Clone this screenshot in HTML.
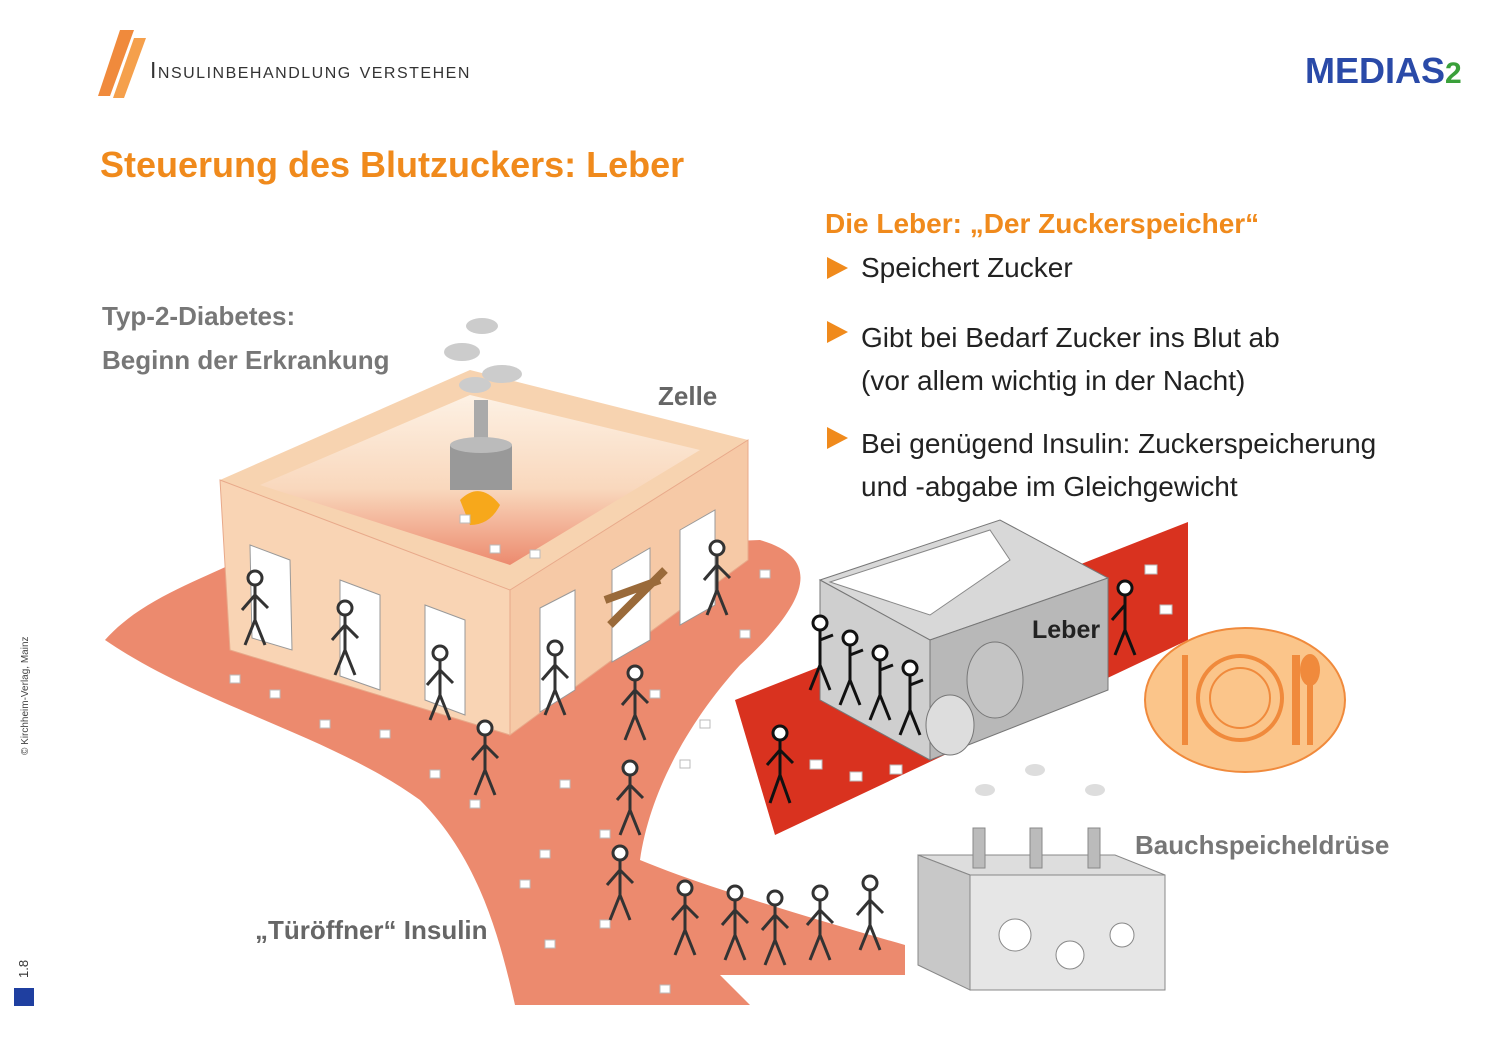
<!DOCTYPE html>
<html><head><meta charset="utf-8"><style>
html,body{margin:0;padding:0;background:#fff;}
body{width:1496px;height:1056px;overflow:hidden;position:relative;font-family:"Liberation Sans","DejaVu Sans",sans-serif;}
.t{position:absolute;white-space:nowrap;}
</style></head><body>
<svg width="1496" height="1056" style="position:absolute;left:0;top:0" xmlns="http://www.w3.org/2000/svg">
<defs><linearGradient id="g1" x1="0" y1="0" x2="0" y2="1"><stop offset="0" stop-color="#fdf1e4"/><stop offset="0.55" stop-color="#f9d8bd"/><stop offset="1" stop-color="#ec8a6e"/></linearGradient></defs>
<path d="M120,30 L134,30 L110,96 L98,96 Z" fill="#f08a3c"/>
<path d="M134,38 L146,38 L124,98 L113,98 Z" fill="#f5a04c"/>
<path d="M105,640 C140,600 200,580 240,560 L760,540 C830,560 800,610 740,665 C690,720 650,790 640,860 C700,885 800,915 905,945 L905,975 L720,975 L750,1005 L515,1005 C500,940 480,860 420,800 C330,735 200,705 105,640 Z" fill="#ec8a6e"/>
<path d="M735,700 L1188,522 L1188,640 L775,835 Z" fill="#d9321f"/>
<path d="M220,480 L470,370 L748,440 L510,590 Z" fill="#f7d3b0"/>
<path d="M260,485 L470,395 L700,450 L510,565 Z" fill="url(#g1)"/>
<path d="M220,480 L510,590 L510,735 L230,650 Z" fill="#f9d4b4" stroke="#e8a98a"/>
<path d="M510,590 L748,440 L748,560 L510,735 Z" fill="#f6c9a6" stroke="#e8a98a"/>
<path d="M250,545 L290,560 L292,650 L252,638 Z" fill="#fff" stroke="#999"/>
<path d="M340,580 L380,595 L380,690 L340,676 Z" fill="#fff" stroke="#999"/>
<path d="M425,605 L465,620 L465,715 L425,700 Z" fill="#fff" stroke="#999"/>
<path d="M540,608 L575,590 L575,690 L540,712 Z" fill="#fff" stroke="#999"/>
<path d="M612,570 L650,548 L650,640 L612,662 Z" fill="#fff" stroke="#999"/>
<path d="M680,530 L715,510 L715,605 L680,625 Z" fill="#fff" stroke="#999"/>
<path d="M605,600 L660,580 M610,625 L665,570" stroke="#9a6a3a" stroke-width="8"/>
<rect x="474" y="400" width="14" height="42" fill="#aaa"/>
<path d="M450,445 L512,445 L512,490 L450,490 Z" fill="#999"/>
<ellipse cx="481" cy="445" rx="31" ry="8" fill="#bbb"/>
<path d="M460,500 Q480,480 500,505 Q490,525 470,525 Z" fill="#f7a81b"/>
<g fill="#ccc"><ellipse cx="482" cy="326" rx="16" ry="8"/><ellipse cx="462" cy="352" rx="18" ry="9"/><ellipse cx="502" cy="374" rx="20" ry="9"/><ellipse cx="475" cy="385" rx="16" ry="8"/></g>
<path d="M820,580 L1000,520 L1108,578 L930,640 Z" fill="#d8d8d8" stroke="#777"/>
<path d="M830,582 L990,530 L1010,560 L930,615 Z" fill="#fff" stroke="#888"/>
<path d="M820,580 L930,640 L930,760 L820,700 Z" fill="#cfcfcf" stroke="#777"/>
<path d="M930,640 L1108,578 L1108,690 L930,760 Z" fill="#b8b8b8" stroke="#777"/>
<ellipse cx="995" cy="680" rx="28" ry="38" fill="#c4c4c4" stroke="#777"/>
<ellipse cx="950" cy="725" rx="24" ry="30" fill="#ddd" stroke="#777"/>
<path d="M918,855 L1115,855 L1165,875 L970,875 Z" fill="#ddd" stroke="#888"/>
<path d="M918,855 L970,875 L970,990 L918,965 Z" fill="#c8c8c8" stroke="#888"/>
<rect x="970" y="875" width="195" height="115" fill="#e6e6e6" stroke="#888"/>
<g fill="#bbb" stroke="#888"><rect x="973" y="828" width="12" height="40"/><rect x="1030" y="828" width="12" height="40"/><rect x="1088" y="828" width="12" height="40"/></g>
<g fill="#ddd"><ellipse cx="985" cy="790" rx="10" ry="6"/><ellipse cx="1035" cy="770" rx="10" ry="6"/><ellipse cx="1095" cy="790" rx="10" ry="6"/></g>
<circle cx="1015" cy="935" r="16" fill="#fff" stroke="#888"/><circle cx="1070" cy="955" r="14" fill="#fff" stroke="#888"/><circle cx="1122" cy="935" r="12" fill="#fff" stroke="#888"/>
<ellipse cx="1245" cy="700" rx="100" ry="72" fill="#fbc58a" stroke="#f08a3c" stroke-width="2"/>
<circle cx="1240" cy="698" r="42" fill="none" stroke="#f08a3c" stroke-width="4"/>
<circle cx="1240" cy="698" r="30" fill="none" stroke="#f08a3c" stroke-width="2"/>
<rect x="1182" y="655" width="6" height="90" fill="#f08a3c"/>
<rect x="1292" y="655" width="8" height="90" fill="#f08a3c"/>
<ellipse cx="1310" cy="670" rx="10" ry="16" fill="#f08a3c"/><rect x="1307" y="680" width="6" height="65" fill="#f08a3c"/>
<g fill="#fff" stroke="#bbb">
<rect x="230" y="675" width="10" height="8"/><rect x="270" y="690" width="10" height="8"/><rect x="320" y="720" width="10" height="8"/><rect x="380" y="730" width="10" height="8"/><rect x="430" y="770" width="10" height="8"/><rect x="470" y="800" width="10" height="8"/><rect x="520" y="880" width="10" height="8"/><rect x="545" y="940" width="10" height="8"/><rect x="600" y="920" width="10" height="8"/><rect x="660" y="985" width="10" height="8"/><rect x="560" y="780" width="10" height="8"/><rect x="600" y="830" width="10" height="8"/><rect x="680" y="760" width="10" height="8"/><rect x="700" y="720" width="10" height="8"/><rect x="740" y="630" width="10" height="8"/><rect x="760" y="570" width="10" height="8"/><rect x="650" y="690" width="10" height="8"/><rect x="540" y="850" width="10" height="8"/><rect x="810" y="760" width="12" height="9"/><rect x="850" y="772" width="12" height="9"/><rect x="890" y="765" width="12" height="9"/><rect x="1145" y="565" width="12" height="9"/><rect x="1160" y="605" width="12" height="9"/><rect x="490" y="545" width="10" height="8"/><rect x="530" y="550" width="10" height="8"/><rect x="460" y="515" width="10" height="8"/>
</g>
<g fill="none" stroke="#333" stroke-width="3">
<g transform="translate(480,720)"><circle cx="5" cy="8" r="7" fill="#fff"/><path d="M5,15 L5,50 L-5,75 M5,50 L15,75 M5,25 L-8,40 M5,25 L18,38"/></g>
<g transform="translate(625,760)"><circle cx="5" cy="8" r="7" fill="#fff"/><path d="M5,15 L5,50 L-5,75 M5,50 L15,75 M5,25 L-8,40 M5,25 L18,38"/></g>
<g transform="translate(615,845)"><circle cx="5" cy="8" r="7" fill="#fff"/><path d="M5,15 L5,50 L-5,75 M5,50 L15,75 M5,25 L-8,40 M5,25 L18,38"/></g>
<g transform="translate(630,665)"><circle cx="5" cy="8" r="7" fill="#fff"/><path d="M5,15 L5,50 L-5,75 M5,50 L15,75 M5,25 L-8,40 M5,25 L18,38"/></g>
<g transform="translate(775,725)" stroke="#111"><circle cx="5" cy="8" r="7" fill="#fff"/><path d="M5,15 L5,50 L-5,78 M5,50 L15,78 M5,25 L-8,40 M5,25 L18,38"/></g>
<g transform="translate(680,880)"><circle cx="5" cy="8" r="7" fill="#fff"/><path d="M5,15 L5,50 L-5,75 M5,50 L15,75 M5,25 L-8,40 M5,25 L18,38"/></g>
<g transform="translate(730,885)"><circle cx="5" cy="8" r="7" fill="#fff"/><path d="M5,15 L5,50 L-5,75 M5,50 L15,75 M5,25 L-8,40 M5,25 L18,38"/></g>
<g transform="translate(770,890)"><circle cx="5" cy="8" r="7" fill="#fff"/><path d="M5,15 L5,50 L-5,75 M5,50 L15,75 M5,25 L-8,40 M5,25 L18,38"/></g>
<g transform="translate(815,885)"><circle cx="5" cy="8" r="7" fill="#fff"/><path d="M5,15 L5,50 L-5,75 M5,50 L15,75 M5,25 L-8,40 M5,25 L18,38"/></g>
<g transform="translate(865,875)"><circle cx="5" cy="8" r="7" fill="#fff"/><path d="M5,15 L5,50 L-5,75 M5,50 L15,75 M5,25 L-8,40 M5,25 L18,38"/></g>
<g transform="translate(250,570)"><circle cx="5" cy="8" r="7" fill="#fff"/><path d="M5,15 L5,50 L-5,75 M5,50 L15,75 M5,25 L-8,40 M5,25 L18,38"/></g>
<g transform="translate(340,600)"><circle cx="5" cy="8" r="7" fill="#fff"/><path d="M5,15 L5,50 L-5,75 M5,50 L15,75 M5,25 L-8,40 M5,25 L18,38"/></g>
<g transform="translate(435,645)"><circle cx="5" cy="8" r="7" fill="#fff"/><path d="M5,15 L5,50 L-5,75 M5,50 L15,75 M5,25 L-8,40 M5,25 L18,38"/></g>
<g transform="translate(550,640)"><circle cx="5" cy="8" r="7" fill="#fff"/><path d="M5,15 L5,50 L-5,75 M5,50 L15,75 M5,25 L-8,40 M5,25 L18,38"/></g>
<g transform="translate(712,540)"><circle cx="5" cy="8" r="7" fill="#fff"/><path d="M5,15 L5,50 L-5,75 M5,50 L15,75 M5,25 L-8,40 M5,25 L18,38"/></g>
<g transform="translate(815,615)" stroke="#111"><circle cx="5" cy="8" r="7" fill="#fff"/><path d="M5,15 L5,50 L-5,75 M5,50 L15,75 M5,25 L18,20"/></g>
<g transform="translate(845,630)" stroke="#111"><circle cx="5" cy="8" r="7" fill="#fff"/><path d="M5,15 L5,50 L-5,75 M5,50 L15,75 M5,25 L18,20"/></g>
<g transform="translate(875,645)" stroke="#111"><circle cx="5" cy="8" r="7" fill="#fff"/><path d="M5,15 L5,50 L-5,75 M5,50 L15,75 M5,25 L18,20"/></g>
<g transform="translate(905,660)" stroke="#111"><circle cx="5" cy="8" r="7" fill="#fff"/><path d="M5,15 L5,50 L-5,75 M5,50 L15,75 M5,25 L18,20"/></g>
<g transform="translate(1120,580)" stroke="#111"><circle cx="5" cy="8" r="7" fill="#fff"/><path d="M5,15 L5,50 L-5,75 M5,50 L15,75 M5,25 L-8,40"/></g>
</g>
<g fill="#f08a1c"><path d="M827,257 L848,268 L827,279 Z"/><path d="M827,321 L848,332 L827,343 Z"/><path d="M827,427 L848,438 L827,449 Z"/></g>
<rect x="14" y="988" width="20" height="18" fill="#1f3fa0"/>
</svg>
<div class="t" style="left:150px;top:57px;font-size:23px;color:#333;font-variant:small-caps;letter-spacing:1.5px;">Insulinbehandlung verstehen</div>
<div class="t" style="left:1305px;top:50px;font-size:36px;color:#2a4aa8;font-weight:bold;">MEDIAS<span style="color:#3aa03a;font-size:30px">2</span></div>
<div class="t" style="left:100px;top:144px;font-size:36px;color:#f08a1c;font-weight:bold;">Steuerung des Blutzuckers: Leber</div>
<div class="t" style="left:825px;top:208px;font-size:28px;color:#f08a1c;font-weight:bold;">Die Leber: „Der Zuckerspeicher“</div>
<div class="t" style="left:861px;top:252px;font-size:28px;color:#222;">Speichert Zucker</div>
<div class="t" style="left:861px;top:316px;font-size:28px;color:#222;line-height:43px;">Gibt bei Bedarf Zucker ins Blut ab<br>(vor allem wichtig in der Nacht)</div>
<div class="t" style="left:861px;top:422px;font-size:28px;color:#222;line-height:43px;">Bei genügend Insulin: Zuckerspeicherung<br>und -abgabe im Gleichgewicht</div>
<div class="t" style="left:102px;top:294px;font-size:26px;color:#777;font-weight:bold;line-height:44px;">Typ-2-Diabetes:<br>Beginn der Erkrankung</div>
<div class="t" style="left:658px;top:381px;font-size:26px;color:#666;font-weight:bold;">Zelle</div>
<div class="t" style="left:1032px;top:616px;font-size:25px;color:#222;font-weight:bold;">Leber</div>
<div class="t" style="left:1135px;top:830px;font-size:26px;color:#777;font-weight:bold;">Bauchspeicheldrüse</div>
<div class="t" style="left:255px;top:915px;font-size:26px;color:#666;font-weight:bold;">„Türöffner“ Insulin</div>
<div class="t" style="left:20px;top:755px;font-size:10px;color:#444;transform:rotate(-90deg);transform-origin:0 0;">© Kirchheim-Verlag, Mainz</div>
<div class="t" style="left:16px;top:978px;font-size:13px;color:#333;transform:rotate(-90deg);transform-origin:0 0;">1.8</div>
</body></html>
